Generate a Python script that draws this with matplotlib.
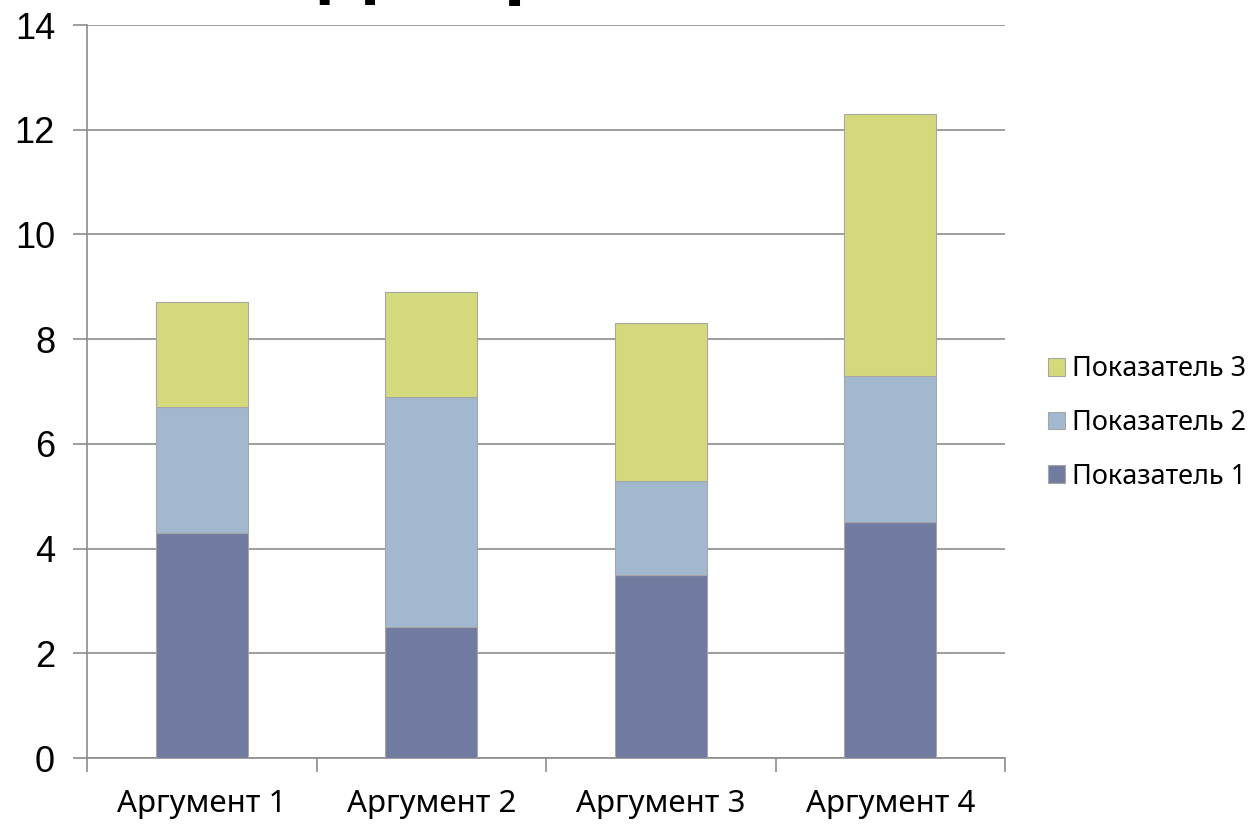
import matplotlib
matplotlib.use("Agg")
import matplotlib.pyplot as plt
import numpy as np

# stacked values per argument
categories = ["Аргумент 1", "Аргумент 2", "Аргумент 3", "Аргумент 4"]
series_names = ["Показатель 1", "Показатель 2", "Показатель 3"]
pok1 = [4.3, 2.5, 3.5, 4.5]
pok2 = [2.4, 4.4, 1.8, 2.8]
pok3 = [2.0, 2.0, 3.0, 5.0]
colors = ["#717ba0", "#a1b8ce", "#d4da7c"]

fig = plt.figure(figsize=(12.54, 8.25), dpi=100)
ax = fig.add_axes([87 / 1254, 1 - 758 / 825, (1005 - 87) / 1254, (758 - 25) / 825])

x = np.arange(len(categories))
bottom = np.zeros(len(categories))
handles = []
for vals, name, c in zip([pok1, pok2, pok3], series_names, colors):
    b = ax.bar(x, vals, width=0.4, bottom=bottom, color=c, edgecolor="#a6a6a6",
               linewidth=0.8, label=name, zorder=3)
    handles.append(b)
    bottom += np.array(vals)

ax.set_xlim(-0.5, len(categories) - 0.5)
ax.set_ylim(0, 14)
ax.set_yticks(range(0, 15, 2))
ax.yaxis.grid(True, color="#8c8c8c", linewidth=1.2, zorder=0)

ax.set_xticks(x)
ax.set_xticklabels(categories, fontsize=22.5, family="Noto Sans")
ax.tick_params(axis="x", length=0, pad=22)
ax.set_xticks(np.arange(-0.5, len(categories)), minor=True)
ax.tick_params(axis="x", which="minor", length=10, color="#8c8c8c", width=1.2)
ax.tick_params(axis="y", length=10, color="#8c8c8c", width=1.2, labelsize=26, pad=13)
for lab in ax.get_yticklabels():
    lab.set_family("Liberation Sans")

for s in ["top", "right"]:
    ax.spines[s].set_visible(False)
for s in ["left", "bottom"]:
    ax.spines[s].set_color("#8c8c8c")
    ax.spines[s].set_linewidth(1.2)

leg = fig.legend(handles[::-1], series_names[::-1], loc="center left",
                 bbox_to_anchor=(1048 / 1254, 1 - 423 / 825), frameon=False,
                 prop={"family": "Noto Sans", "size": 19.5}, handlelength=0.62,
                 handleheight=0.62, handletextpad=0.25, labelspacing=0.95,
                 borderaxespad=0, borderpad=0)

# chart title, mostly above the top edge
fig.text(318 / 1254, 1 + 11 / 825, "Диаграмма", fontsize=58, fontweight="bold",
         family="Liberation Sans", va="baseline", ha="left")

fig.savefig("out.png", dpi=100)
